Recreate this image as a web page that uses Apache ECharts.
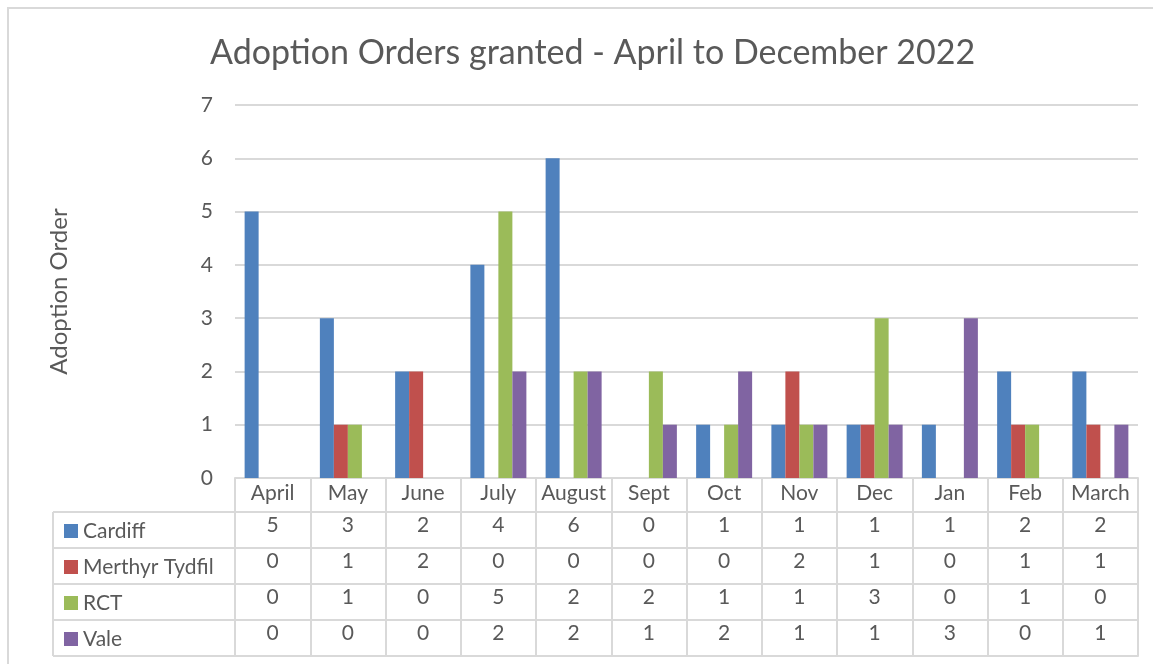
<!DOCTYPE html>
<html>
<head>
<meta charset="utf-8">
<script src="https://cdn.jsdelivr.net/npm/echarts@6/dist/echarts.min.js"></script>
<style>
  html, body { margin: 0; padding: 0; background: #fff; }
  #main { width: 1153px; height: 664px; }
</style>
</head>
<body>
<div id="main"></div>
<script>
// data
const months = ['April', 'May', 'June', 'July', 'August', 'Sept', 'Oct', 'Nov', 'Dec', 'Jan', 'Feb', 'March'];
const cardiff = [5, 3, 2, 4, 6, 0, 1, 1, 1, 1, 2, 2];
const merthyr = [0, 1, 2, 0, 0, 0, 0, 2, 1, 0, 1, 1];
const rct = [0, 1, 0, 5, 2, 2, 1, 1, 3, 0, 1, 0];
const vale = [0, 0, 0, 2, 2, 1, 2, 1, 1, 3, 0, 1];
const yTicks = [0, 1, 2, 3, 4, 5, 6, 7];

const seriesDefs = [
  { name: 'Cardiff', data: cardiff, color: '#4f81bd' },
  { name: 'Merthyr Tydfil', data: merthyr, color: '#c0504d' },
  { name: 'RCT', data: rct, color: '#9bbb59' },
  { name: 'Vale', data: vale, color: '#8064a2' },
];

const FONT = 'Lato';
const TXT = '#595959';
const LINE = '#d9d9d9';

// layout
const plotLeft = 235, plotRight = 1138, plotTop = 105, plotBottom = 478;
const headH = 34, rowH = 36;
const tableLeft = 53;
const tableBottom = plotBottom + headH + rowH * seriesDefs.length;

const myChart = echarts.init(document.getElementById('main'));

// x axes: 0 = month header, 1..4 = table rows, 5 = bottom border
const xAxes = [{
  type: 'category',
  data: months,
  gridIndex: 0,
  position: 'bottom',
  axisLine: { show: true, lineStyle: { color: LINE, width: 2 } },
  axisTick: { show: true, length: tableBottom - plotBottom, lineStyle: { color: LINE, width: 2 } },
  axisLabel: { color: TXT, fontFamily: FONT, fontSize: 21, margin: 5, interval: 0 },
}];
seriesDefs.forEach((s, i) => {
  xAxes.push({
    type: 'category',
    data: months,
    gridIndex: 0,
    position: 'bottom',
    offset: headH + rowH * i,
    axisLine: { show: true, lineStyle: { color: LINE, width: 2 } },
    axisTick: { show: false },
    axisLabel: {
      color: TXT, fontFamily: FONT, fontSize: 21, margin: 3, interval: 0,
      formatter: (v, idx) => String(s.data[idx]),
    },
  });
});
xAxes.push({
  type: 'category',
  data: months,
  gridIndex: 0,
  position: 'bottom',
  offset: tableBottom - plotBottom,
  axisLine: { show: true, lineStyle: { color: LINE, width: 2 } },
  axisTick: { show: false },
  axisLabel: { show: false },
});

// table lines for the legend column
const legendLines = [];
for (let i = 0; i <= seriesDefs.length; i++) {
  const y = plotBottom + headH + rowH * i;
  legendLines.push({
    type: 'line',
    shape: { x1: tableLeft, y1: y, x2: plotLeft, y2: y },
    style: { stroke: LINE, lineWidth: 2 },
  });
}
legendLines.push({
  type: 'line',
  shape: { x1: tableLeft, y1: plotBottom + headH, x2: tableLeft, y2: tableBottom },
  style: { stroke: LINE, lineWidth: 2 },
});
legendLines.push({
  type: 'rect',
  shape: { x: 8, y: 8, width: 1200, height: 700 },
  style: { fill: 'none', stroke: LINE, lineWidth: 2 },
});

const option = {
  backgroundColor: '#ffffff',
  animation: false,
  title: {
    text: 'Adoption Orders granted - April to December 2022',
    left: 205,
    top: 31,
    textStyle: { color: TXT, fontFamily: FONT, fontSize: 34, fontWeight: 'normal' },
  },
  legend: {
    orient: 'vertical',
    left: 64,
    top: plotBottom + headH + 8,
    padding: 0,
    itemWidth: 14,
    itemHeight: 14,
    itemGap: 14,
    icon: 'rect',
    textStyle: { color: TXT, fontFamily: FONT, fontSize: 21, lineHeight: 22 },
    data: seriesDefs.map(s => s.name),
  },
  grid: {
    left: plotLeft,
    right: 1153 - plotRight,
    top: plotTop,
    bottom: 664 - plotBottom,
    containLabel: false,
  },
  xAxis: xAxes,
  yAxis: {
    type: 'value',
    min: yTicks[0],
    max: yTicks[yTicks.length - 1],
    interval: 1,
    name: 'Adoption Order',
    nameLocation: 'middle',
    nameGap: 164,
    nameTextStyle: { color: TXT, fontFamily: FONT, fontSize: 24 },
    axisLine: { show: false },
    axisTick: { show: false },
    axisLabel: { color: TXT, fontFamily: FONT, fontSize: 21, margin: 22 },
    splitLine: { lineStyle: { color: LINE, width: 2 } },
  },
  graphic: legendLines,
  series: seriesDefs.map(s => ({
    name: s.name,
    type: 'bar',
    xAxisIndex: 0,
    data: s.data,
    barWidth: 14,
    barGap: '0%',
    itemStyle: { color: s.color },
  })),
};

option && myChart.setOption(option);
</script>
</body>
</html>
